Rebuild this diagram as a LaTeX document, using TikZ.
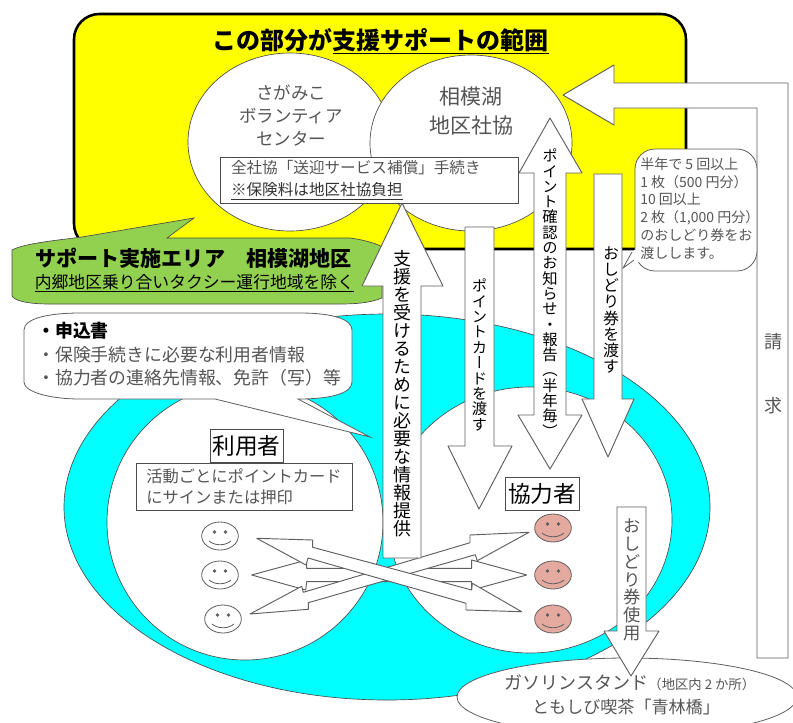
\documentclass[tikz,border=0pt]{standalone}
\usepackage{fontspec}
\setmainfont{Noto Sans CJK JP}
\newfontfamily\jpvert[RawFeature=+vert]{Noto Sans CJK JP}
\usetikzlibrary{shapes.geometric}
\definecolor{linegray}{RGB}{95,95,95}
\definecolor{textgray}{RGB}{85,85,85}
\definecolor{areagreen}{RGB}{146,208,80}
\definecolor{facepink}{RGB}{228,170,160}
\definecolor{scopeyellow}{RGB}{255,255,0}
\definecolor{groundcyan}{RGB}{0,255,255}
\makeatletter
\newcommand{\vtxt}[2]{\vbox{\baselineskip=#1\lineskiplimit=-\maxdimen\@tfor\vc:=#2\do{\hbox to 1.2em{\hss\jpvert\vc\hss}}}}
\makeatother
\begin{document}
\begin{tikzpicture}[
		x=0.75pt,
		y=-0.75pt,
		blob/.style={ellipse,draw=black!70,fill=white,line width=0.5pt,inner sep=0pt},
		blockarrow/.style={draw=linegray,fill=white,line width=0.7pt,line join=round},
		labelbox/.style={rectangle,draw=black!70,fill=white,line width=0.7pt,inner sep=0pt,align=center},
		softtext/.style={text=textgray,inner sep=0pt,align=center},
		hardtext/.style={text=black,inner sep=0pt,align=center},
		facenode/.style={ellipse,draw=linegray,line width=0.6pt,minimum width=27.5pt,minimum height=21pt,inner sep=0pt}
	]
	\useasboundingbox (0,0) rectangle (793,722);
	\clip (0,0) rectangle (793,722);

	\draw[fill=scopeyellow,draw=black,line width=1.9pt,rounded corners=19pt] (74,14) rectangle (686,249);
	\node[ellipse,draw=black!70,fill=groundcyan,line width=0.5pt,inner sep=0pt,minimum width=484.5pt,minimum height=289.5pt] (ground) at (387,507) {};
	\node[blob,minimum width=207pt,minimum height=207pt] (userround) at (245,522) {};
	\node[blob,minimum width=213pt,minimum height=199.5pt] (helperround) at (530,520) {};
	\node[blob,minimum width=153pt,minimum height=133.5pt] (volround) at (290,142) {};
	\node[blob,minimum width=151.5pt,minimum height=132pt] (shakyoround) at (471,143) {};
	\node[softtext,font={\fontsize{13.1}{17.25}\selectfont}] (voltext) at (291,115) {さがみこ\\ボランティア\\センター};
	\node[softtext,font={\fontsize{15.75}{21.75}\selectfont}] (shakyotext) at (471,111) {相模湖\\地区社協};

	\draw[draw=black!70,fill=areagreen,line width=0.5pt] (12,250) .. controls (25,243) and (60,240) .. (82,237) -- (194,218) -- (167,238) -- (350,238) .. controls (365,240) and (378,244) .. (382,247) -- (382,298) .. controls (370,303) and (355,304) .. (340,304) -- (50,304) .. controls (25,304) and (14,300) .. (12,296) -- cycle;
	\node[hardtext,font={\fontsize{15.8}{18}\selectfont\bfseries}] (areatitle) at (193.5,258) {サポート実施エリア　相模湖地区};
	\node[hardtext,font={\fontsize{12.6}{15}\selectfont}] (areanote) at (194.5,283) {\underline{内郷地区乗り合いタクシー運行地域を除く}};

	\draw[draw=linegray,fill=white,line width=0.6pt] (24,330) .. controls (24,318) and (50,313) .. (80,313) -- (300,313) .. controls (335,313) and (352,320) .. (352,330) -- (352,382) .. controls (352,392) and (335,399) .. (298,399) -- (370,437) -- (215,399) -- (80,399) .. controls (50,399) and (24,392) .. (24,382) -- cycle;
	\node[softtext,anchor=west,align=left,font={\fontsize{13.4}{17.6}\selectfont}] (papers) at (37,354.5) {{\bfseries\color{black}・申込書}\\・保険手続きに必要な利用者情報\\・協力者の連絡先情報、免許（写）等};

	\node[ellipse,draw=linegray,fill=white,line width=0.6pt,inner sep=0pt,minimum width=255pt,minimum height=58.5pt] (shops) at (627,697) {};
	\node[softtext] (shopone) at (630,683) {\fontsize{13.5}{16}\selectfont ガソリンスタンド\fontsize{10}{16}\selectfont（地区内 2 か所）};
	\node[softtext,font={\fontsize{12.8}{16}\selectfont}] (shoptwo) at (626,707) {ともしび喫茶「青林橋」};

	\draw[blockarrow] (563,95) -- (614,65) -- (614,83) -- (788,83) -- (788,658) -- (757,658) -- (757,108) -- (614,108) -- (614,125) -- cycle;
	\node[softtext,font={\fontsize{13.5}{18}\selectfont}] (billa) at (773,342) {請};
	\node[softtext,font={\fontsize{13.5}{18}\selectfont}] (billb) at (773,406) {求};

	\draw[draw=linegray,fill=white,line width=0.6pt,rounded corners=15pt] (635,149) rectangle (757,271);
	\draw[draw=linegray,fill=white,line width=0.6pt] (632,252) -- (623,268) -- (637,258);
	\fill[white] (634,250) rectangle (640,262);
	\node[softtext,anchor=west,align=left,font={\fontsize{10.5}{13.3}\selectfont}] (ticketnote) at (640,208.5) {半年で 5 回以上\\1 枚（500 円分）\\10 回以上\\2 枚（1,000 円分）\\のおしどり券をお\\渡しします。};

	\draw[blockarrow] (594,174) -- (622,174) -- (622,399) -- (634,399) -- (608,457) -- (582,399) -- (594,399) -- cycle;
	\node[hardtext,font={\fontsize{12}{16}\selectfont}] (tickethand) at (611,310) {\vtxt{16.2\dimexpr 0.75pt\relax}{おしどり券を渡す}};

	\draw[blockarrow] (465,227) -- (494,227) -- (494,446) -- (512,446) -- (479,509) -- (448,446) -- (465,446) -- cycle;
	\node[hardtext,font={\fontsize{11.5}{16}\selectfont}] (cardhand) at (479.5,355) {\vtxt{15.4\dimexpr 0.75pt\relax}{ポイントカードを渡す}};

	\draw[blockarrow] (550,118) -- (582,173) -- (566,173) -- (566,415) -- (582,415) -- (550,469) -- (518,415) -- (534,415) -- (534,173) -- (519,173) -- cycle;
	\node[hardtext,font={\fontsize{11.5}{16}\selectfont}] (pointreport) at (550,293) {\vtxt{15.3\dimexpr 0.75pt\relax}{ポイント確認のお知らせ・報告（半年毎）}};

	\draw[blockarrow] (617,507) -- (646,507) -- (646,631) -- (659,631) -- (631,676) -- (604,631) -- (617,631) -- cycle;
	\node[softtext,font={\fontsize{13}{16}\selectfont}] (ticketuse) at (632,580) {\vtxt{17.8\dimexpr 0.75pt\relax}{おしどり券使用}};

	\draw[blockarrow] (251.7,575) -- (306.7,560) -- (306.7,568.3) -- (471.7,568.3) -- (471.7,560) -- (526.7,575) -- (471.7,590) -- (471.7,581.7) -- (306.7,581.7) -- (305.7,590) -- cycle;
	\draw[blockarrow] (250,614) -- (308.3,609.3) -- (308.3,602.7) -- (475.3,554.7) -- (477.3,560.7) -- (529,532.3) -- (470,535) -- (470,542.7) -- (303.3,592.3) -- (301.7,586.3) -- cycle;
	\draw[blockarrow] (256.7,538.3) -- (312.7,540) -- (312.7,547.3) -- (471.7,590) -- (472.3,583.3) -- (521.7,611.7) -- (466,610) -- (466,603.3) -- (308,558) -- (306,565) -- cycle;

	\draw[blockarrow] (402,203) -- (443,286) -- (421,286) -- (421,558) -- (383,558) -- (383,286) -- (362,286) -- cycle;
	\node[hardtext,font={\fontsize{13.5}{18}\selectfont}] (infotext) at (402,393.5) {\vtxt{18\dimexpr 0.75pt\relax}{支援を受けるために必要な情報提供}};

	\node[labelbox,minimum width=223.5pt,minimum height=34.5pt,inner xsep=8.25pt,text width=207pt,align=left,text=textgray,font={\fontsize{11.7}{16.5}\selectfont}] (insurebox) at (369,180) {全社協「送迎サービス補償」手続き\\{\color{black!80}\underline{※保険料は地区社協負担}}};
	\node[labelbox,minimum width=54.75pt,minimum height=24.75pt,font={\fontsize{17}{20}\selectfont}] (userbox) at (246.5,445.5) {利用者};
	\node[labelbox,minimum width=162pt,minimum height=35.25pt,align=left,text=textgray,font={\fontsize{12.2}{15.75}\selectfont}] (cardbox) at (244,486.5) {活動ごとにポイントカード\\にサインまたは押印};
	\node[labelbox,minimum width=55.5pt,minimum height=24.75pt,font={\fontsize{17}{20}\selectfont}] (helperbox) at (542,493.5) {協力者};

	\node[hardtext,font={\fontsize{18}{22}\selectfont\bfseries}] (title) at (380.5,41) {この部分が\underline{支援サポートの範囲}};

	\foreach \fx/\fy/\fc/\fn in {220/536/white/usera,220/575/white/userb,223/619/white/userc,553/528/facepink/helpera,553/575/facepink/helperb,553/619/facepink/helperc} {
		\node[facenode,fill=\fc] (\fn) at (\fx,\fy) {};
		\fill[linegray] (\fx-5.5,\fy-4) circle (1.8) (\fx+5.5,\fy-4) circle (1.8);
		\draw[linegray,line width=0.6pt] (\fx-11,\fy+5) .. controls (\fx-5,\fy+10) and (\fx+5,\fy+10) .. (\fx+11,\fy+5);
	}
\end{tikzpicture}
\end{document}
